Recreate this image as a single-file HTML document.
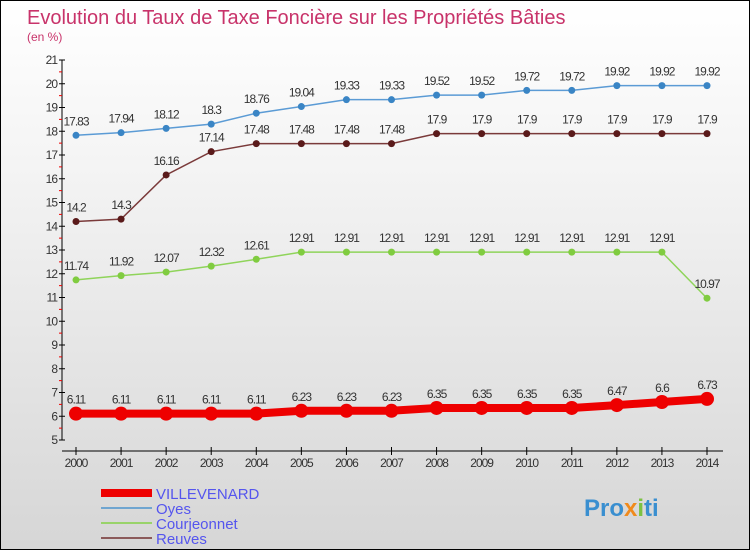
<!DOCTYPE html>
<html><head><meta charset="utf-8"><style>
body{margin:0}
#c{width:750px;height:550px;position:relative;box-sizing:border-box;border:1px solid #000;background:linear-gradient(#fff,#f4f4f4 30%,#d6d6d6);font-family:"Liberation Sans",sans-serif;overflow:hidden}
</style></head><body>
<div id="c">
<svg id="s" width="748" height="548" xmlns="http://www.w3.org/2000/svg" style="position:absolute;left:0;top:0">
<text x="26" y="23" font-size="20" fill="#c8336a">Evolution du Taux de Taxe Foncière sur les Propriétés Bâties</text>
<text x="26" y="40" font-size="12" fill="#c8336a">(en %)</text>
<g id="axes"></g><g id="series"></g>
<g>
<line x1="100" y1="492" x2="151" y2="492" stroke="#e00" stroke-width="8"/>
<text x="155" y="498" font-size="15" fill="#5555ee">VILLEVENARD</text>
<line x1="100" y1="507" x2="151" y2="507" stroke="#6fa5d0" stroke-width="2"/>
<text x="155" y="513" font-size="15" fill="#5555ee">Oyes</text>
<line x1="100" y1="522" x2="151" y2="522" stroke="#99d36a" stroke-width="2"/>
<text x="155" y="528" font-size="15" fill="#5555ee">Courjeonnet</text>
<line x1="100" y1="537" x2="151" y2="537" stroke="#8b5a5a" stroke-width="2"/>
<text x="155" y="543" font-size="15" fill="#5555ee">Reuves</text>
</g>
<text x="583" y="515" font-size="24" font-weight="bold" fill="#3a8fd0">Pro<tspan fill="#f08a1c">x</tspan><tspan fill="#7cc242">i</tspan>ti</text>
</svg>
</div>
<script>
const years=[2000,2001,2002,2003,2004,2005,2006,2007,2008,2009,2010,2011,2012,2013,2014];
const villevenard=[6.11,6.11,6.11,6.11,6.11,6.23,6.23,6.23,6.35,6.35,6.35,6.35,6.47,6.6,6.73];
const oyes=[17.83,17.94,18.12,18.3,18.76,19.04,19.33,19.33,19.52,19.52,19.72,19.72,19.92,19.92,19.92];
const courjeonnet=[11.74,11.92,12.07,12.32,12.61,12.91,12.91,12.91,12.91,12.91,12.91,12.91,12.91,12.91,10.97];
const reuves=[14.2,14.3,16.16,17.14,17.48,17.48,17.48,17.48,17.9,17.9,17.9,17.9,17.9,17.9,17.9];
const yTicks=[5,6,7,8,9,10,11,12,13,14,15,16,17,18,19,20,21];
const NS="http://www.w3.org/2000/svg";
const X=i=>75+i*(706-75)/(years.length-1);
const Y=v=>439-(v-5)*(439-59)/16;
function mk(t,a,p){const e=document.createElementNS(NS,t);for(const k in a)e.setAttribute(k,a[k]);p.appendChild(e);return e;}
const ax=document.getElementById('axes'),se=document.getElementById('series');
const ya=mk('line',{x1:61,y1:Y(21),x2:61,y2:Y(5),stroke:'#000'},ax);


yTicks.forEach(v=>{
 mk('line',{x1:58,y1:Y(v),x2:64,y2:Y(v),stroke:'#000'},ax);
 if(v<21){mk('line',{x1:58,y1:Y(v+0.5),x2:61,y2:Y(v+0.5),stroke:'#e00'},ax);}
 const t=mk('text',{x:56,y:Y(v)+4,'font-size':12,'text-anchor':'end',fill:'#333','letter-spacing':'-1'},ax);
 t.textContent=v;
 
 
});
const xa=mk('line',{x1:61,y1:450,x2:722,y2:450,stroke:'#000'},ax);


years.forEach((y,i)=>{
 mk('line',{x1:X(i),y1:446,x2:X(i),y2:454,stroke:'#000'},ax);
 const t=mk('text',{x:X(i),y:466,'font-size':12,'text-anchor':'middle',fill:'#333','letter-spacing':'-1'},ax);
 t.textContent=y;
 
 
});
function series(name,vals,col,w,r,dot){
 const g=mk('g',{},se);
 
 
 mk('polyline',{points:vals.map((v,i)=>X(i)+','+Y(v)).join(' '),fill:'none',stroke:col,'stroke-width':w},g);
 vals.forEach((v,i)=>{
  const c=mk('circle',{cx:X(i),cy:Y(v),r:r,fill:dot},g);
  
  
  const t=mk('text',{x:X(i),y:Y(v)-10,'font-size':12,'text-anchor':'middle',fill:'#333','letter-spacing':'-1'},g);
  t.textContent=v;
  
  
 });
}
series('oyes',oyes,'#5b9bd5',1.5,3.5,'#3a85c5');
series('reuves',reuves,'#7a3a3a',1.5,3.5,'#5a1a1a');
series('courjeonnet',courjeonnet,'#8fd45a',1.5,3.5,'#80cc40');
series('villevenard',villevenard,'#e00',8,7,'#e00');
</script>
</body></html>
